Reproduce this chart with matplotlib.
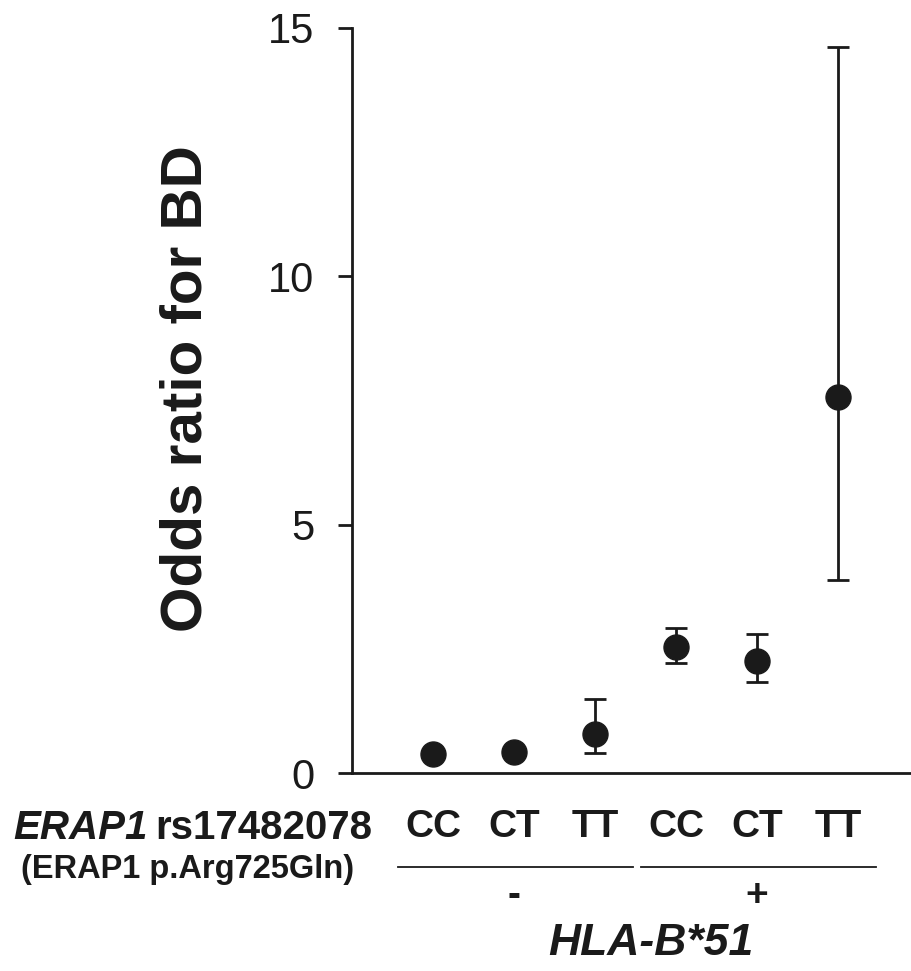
import matplotlib
matplotlib.use("Agg")
import matplotlib.pyplot as plt
import numpy as np

# data
genotypes = ["CC", "CT", "TT", "CC", "CT", "TT"]
hla_groups = ["-", "+"]
odds = [0.38, 0.42, 0.79, 2.54, 2.25, 7.58]
ci_low = [0.38, 0.42, 0.40, 2.21, 1.83, 3.88]
ci_high = [0.38, 0.42, 1.49, 2.92, 2.80, 14.62]
yticks = [0, 5, 10, 15]

ink = "#1a1a1a"
plt.rcParams["font.family"] = ["Liberation Sans", "DejaVu Sans"]

x = np.arange(1, len(odds) + 1)
odds = np.array(odds)
err = np.vstack([odds - np.array(ci_low), np.array(ci_high) - odds])

fig = plt.figure(figsize=(9.11, 9.71), dpi=100)
ax = fig.add_axes([0.3864, 0.2039, 0.6136, 0.7673])

ax.errorbar(x, odds, yerr=err, fmt="o", color=ink, ms=18, elinewidth=2,
            capsize=8, capthick=2, clip_on=False, zorder=3)

ax.set_xlim(0, 6.9)
ax.set_ylim(0, 15)
ax.set_yticks(yticks)
ax.set_xticks(x)
ax.set_xticklabels(genotypes, fontsize=28, fontweight="bold", color=ink)
ax.tick_params(axis="x", length=0, pad=26)
ax.tick_params(axis="y", direction="out", length=10, width=2, pad=17,
               labelsize=30, colors=ink)
for side in ("top", "right"):
    ax.spines[side].set_visible(False)
for side in ("left", "bottom"):
    ax.spines[side].set_linewidth(2)
    ax.spines[side].set_color(ink)

fig.text(0.205, 0.60, "Odds ratio for BD", rotation=90, ha="center",
         va="center", fontsize=42, fontweight="bold", color=ink)

# left-hand row labels
fig.text(13 / 911, 1 - 839 / 971, "ERAP1", fontsize=29, fontweight="bold",
         style="italic", ha="left", va="baseline", color=ink)
fig.text(372 / 911, 1 - 839 / 971, "rs17482078", fontsize=29, fontweight="bold",
         ha="right", va="baseline", color=ink)
fig.text(188 / 911, 1 - 869 / 971, "(ERAP1 p.Arg725Gln)", fontsize=23.5,
         fontweight="bold", ha="center", va="center", color=ink)

# group lines and HLA status
tr = ax.get_xaxis_transform()
for i, g in enumerate(hla_groups):
    first, last = x[3 * i], x[3 * i + 2]
    ax.plot([first - 0.43, last + 0.47], [-0.126, -0.126], color=ink, lw=1.3,
            transform=tr, clip_on=False)
    ax.text((first + last) / 2, -0.165, g, transform=tr, ha="center",
            va="center", fontsize=28, fontweight="bold", color=ink)

fig.text(651 / 911, 1 - 943 / 971, "HLA-B*51", fontsize=32, fontweight="bold",
         style="italic", ha="center", va="center", color=ink)

fig.savefig("out.png", dpi=100)
